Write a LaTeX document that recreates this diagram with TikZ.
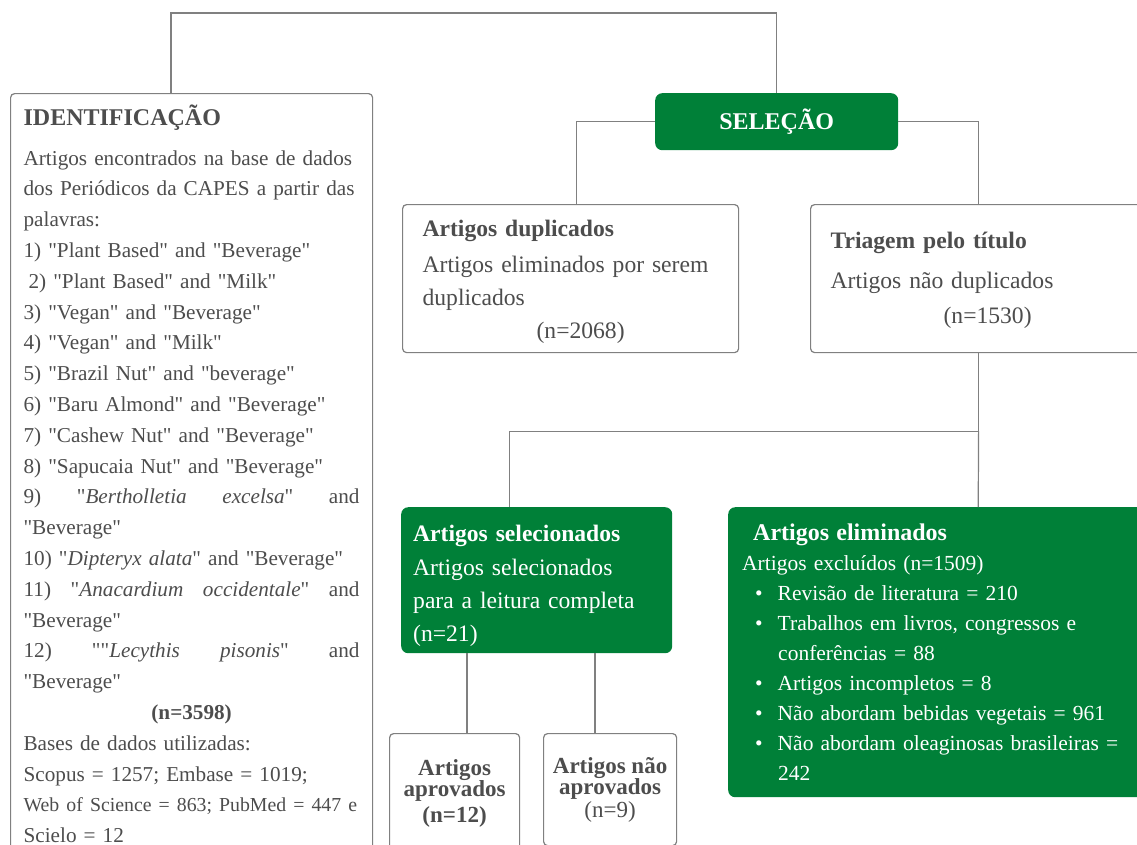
\documentclass[tikz,border=0pt]{standalone}
\usepackage{fontspec}
\setmainfont{Liberation Serif}[Ligatures=TeXOff]
\usepackage{tikz}

\definecolor{selgreen}{RGB}{0,128,56}
\definecolor{boxgray}{RGB}{128,128,128}
\definecolor{textgray}{RGB}{77,77,77}

\begin{document}
\begin{tikzpicture}[x=1pt,y=-1pt,
    graybox/.style={draw=boxgray, line width=1.2pt, rounded corners=4pt, fill=white,
      text=textgray, anchor=north west, align=left, inner ysep=0pt},
    greenbox/.style={fill=selgreen, rounded corners=7pt, text=white,
      anchor=north west, align=left, inner ysep=0pt},
    link/.style={draw=boxgray, line width=1.2pt}]
  \useasboundingbox (0,0) rectangle (1137,844);
  \clip (0,0) rectangle (1137,844);

  % Nodes
  \node[graybox, inner xsep=13pt, inner ysep=11pt, text width=336pt,
        font=\fontsize{21.2}{30.8}\selectfont] (ident) at (10,93) {%
    {\fontsize{24}{30}\selectfont\bfseries IDENTIFICAÇÃO}\\[9pt]
    Artigos encontrados na base de dados\\
    dos Periódicos da CAPES a partir das\\
    palavras:\\
    1) "Plant Based" and "Beverage"\\
    \hspace*{5pt}2) "Plant Based" and "Milk"\\
    3) "Vegan" and "Beverage"\\
    4) "Vegan" and "Milk"\\
    5) "Brazil Nut" and "beverage"\\
    6) "Baru Almond" and "Beverage"\\
    7) "Cashew Nut" and "Beverage"\\
    8) "Sapucaia Nut" and "Beverage"\\
    9)\hfill"\textit{Bertholletia}\hfill\textit{excelsa}"\hfill and\\
    "Beverage"\\
    10) "\textit{Dipteryx alata}" and "Beverage"\\
    11)\hfill"\textit{Anacardium}\hfill\textit{occidentale}"\hfill and\\
    "Beverage"\\
    12)\hfill""\textit{Lecythis}\hfill\textit{pisonis}"\hfill and\\
    "Beverage"\\
    \makebox[\hsize]{\bfseries (n=3598)}\\
    Bases de dados utilizadas:\\
    Scopus = 1257; Embase = 1019;\\
    \mbox{\fontsize{19.8}{30.8}\selectfont Web of Science = 863; PubMed = 447 e}\\
    Scielo = 12};
  \node[greenbox, minimum width=243pt, minimum height=57pt, align=center,
        font=\fontsize{24}{28}\selectfont\bfseries] (sel) at (655,93) {SELEÇÃO};
  \node[graybox, minimum width=336pt, minimum height=148pt, inner xsep=20pt,
        text width=296pt, font=\fontsize{23.6}{33}\selectfont] (dup) at (402,204) {%
    \rule{0pt}{22pt}\textbf{Artigos duplicados}\\[3pt]
    Artigos eliminados por serem\\
    duplicados\\
    \hspace*{\fill}\hspace*{20pt}(n=2068)\hspace*{\fill}};
  \node[graybox, minimum width=336pt, minimum height=148pt, inner xsep=20pt,
        text width=296pt, font=\fontsize{23.6}{35}\selectfont] (tri) at (810,204) {%
    \rule{0pt}{20pt}\textbf{Triagem pelo título}\\[5pt]
    Artigos não duplicados\\
    \hspace*{\fill}\hspace*{18pt}(n=1530)\hspace*{\fill}};
  \node[greenbox, minimum width=271pt, minimum height=146pt, inner xsep=12pt,
        text width=247pt, font=\fontsize{23.6}{33.3}\selectfont] (chosen) at (401,507) {%
    \rule{0pt}{28pt}\textbf{Artigos selecionados}\\
    Artigos selecionados\\
    para a leitura completa\\
    (n=21)};
  \node[greenbox, minimum width=500pt, minimum height=290pt, inner xsep=14pt,
        text width=472pt, font=\fontsize{21.5}{30}\selectfont] (elim) at (728,507) {%
    \hspace*{11pt}{\fontsize{24}{30}\selectfont\bfseries Artigos eliminados}\\
    Artigos excluídos (n=1509)\\
    \hspace*{13pt}\textbullet\hspace*{15pt}Revisão de literatura = 210\\
    \hspace*{13pt}\textbullet\hspace*{15pt}Trabalhos em livros, congressos e\\
    \hspace*{36pt}conferências = 88\\
    \hspace*{13pt}\textbullet\hspace*{15pt}Artigos incompletos = 8\\
    \hspace*{13pt}\textbullet\hspace*{15pt}Não abordam bebidas vegetais = 961\\
    \hspace*{13pt}\textbullet\hspace*{15pt}Não abordam oleaginosas brasileiras =\\
    \hspace*{36pt}242};
  \node[graybox, minimum width=130pt, minimum height=119pt, align=center,
        font=\fontsize{23}{21.5}\selectfont\bfseries] (apr) at (389,733) {%
    Artigos\\ aprovados\\[4pt] (n=12)};
  \node[graybox, minimum width=133pt, minimum height=112pt, align=center,
        font=\fontsize{23}{21.5}\selectfont] (napr) at (543,733) {%
    \textbf{Artigos não}\\ \textbf{aprovados}\\[1pt] (n=9)};

  % Lines
  \draw[link] ([xshift=161pt]ident.north west) -- ++(0,-80) -| (sel.north);
  \draw[link] (sel.west) -| ([xshift=6pt]dup.north);
  \draw[link] (sel.east) -| (tri.north);
  \draw[link] (tri.south) -- ++(0,78) coordinate (split);
  \draw[link] (split) -- (elim.north);
  \draw[link] (split) -| ([xshift=-27pt]chosen.north);
  \draw[link] ([xshift=66pt]chosen.south west) -- ([xshift=78pt]apr.north west);
  \draw[link] ([xshift=194pt]chosen.south west) -- ([xshift=52pt]napr.north west);
\end{tikzpicture}
\end{document}
